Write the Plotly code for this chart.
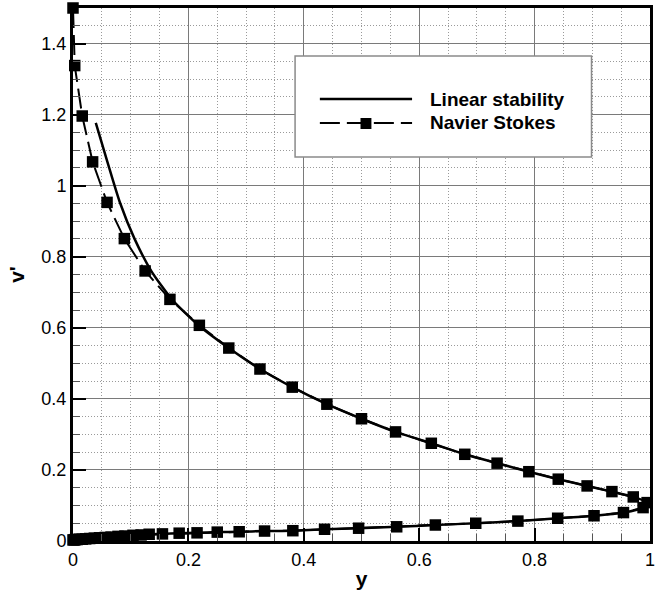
import plotly.graph_objects as go

# Navier Stokes: upper branch (large amplitude near y=0, decaying to y=1)
ns_up_x = [0.0, 0.003, 0.016, 0.034, 0.059, 0.089, 0.125, 0.168, 0.219, 0.270,
           0.324, 0.380, 0.440, 0.500, 0.559, 0.621, 0.679, 0.735, 0.790, 0.841,
           0.891, 0.934, 0.971, 0.995]
ns_up_v = [1.50, 1.338, 1.196, 1.067, 0.953, 0.851, 0.760, 0.680, 0.607, 0.543,
           0.484, 0.433, 0.385, 0.344, 0.307, 0.275, 0.244, 0.219, 0.195, 0.174,
           0.155, 0.139, 0.124, 0.108]

# Navier Stokes: lower branch (small amplitude, growing towards y=1)
ns_lo_x = [0.988, 0.954, 0.903, 0.840, 0.771, 0.698, 0.628, 0.561, 0.495, 0.436,
           0.381, 0.332, 0.288, 0.250, 0.215, 0.184, 0.155, 0.132, 0.118, 0.104,
           0.090, 0.078, 0.066, 0.056, 0.046, 0.037, 0.029, 0.022, 0.016, 0.011,
           0.007, 0.004, 0.002, 0.0]
ns_lo_v = [0.094, 0.080, 0.071, 0.064, 0.056, 0.050, 0.045, 0.040, 0.036, 0.033,
           0.029, 0.028, 0.026, 0.025, 0.023, 0.022, 0.020, 0.019, 0.017, 0.016,
           0.014, 0.013, 0.011, 0.010, 0.009, 0.008, 0.007, 0.006, 0.005, 0.005,
           0.004, 0.004, 0.003, 0.003]

# Linear stability: upper branch starts slightly away from the wall
ls_up_x = [0.0395, 0.0596, 0.081, 0.1065, 0.136, 0.172, 0.217, 0.270, 0.324, 0.380,
           0.440, 0.500, 0.559, 0.621, 0.679, 0.735, 0.790, 0.841, 0.891, 0.934,
           0.971, 0.995]
ls_up_v = [1.177, 1.067, 0.954, 0.851, 0.759, 0.679, 0.608, 0.543, 0.484, 0.433,
           0.385, 0.344, 0.307, 0.275, 0.244, 0.219, 0.195, 0.174, 0.155, 0.139,
           0.124, 0.108]
ls_lo_x = ns_lo_x
ls_lo_v = ns_lo_v

x_ticks = [0, 0.2, 0.4, 0.6, 0.8, 1]
y_ticks = [0, 0.2, 0.4, 0.6, 0.8, 1, 1.2, 1.4]

legend_names = ["Linear stability", "Navier Stokes"]

FONT = "Liberation Sans, Arial, Helvetica, sans-serif"
W, H = 657, 594
ML, MR, MT, MB = 73, 2, 8, 53
PW, PH = W - ML - MR, H - MT - MB


def px_x(px):
    return (px - ML) / PW


def px_y(py):
    return (H - MB - py) / PH


fig = go.Figure()

fig.add_trace(go.Scatter(
    x=ls_up_x + ls_lo_x, y=ls_up_v + ls_lo_v,
    mode="lines", name=legend_names[0],
    line=dict(color="black", width=2.5, shape="spline", smoothing=0.6),
    showlegend=False, cliponaxis=False,
))
fig.add_trace(go.Scatter(
    x=ns_up_x + ns_lo_x, y=ns_up_v + ns_lo_v,
    mode="lines+markers", name=legend_names[1],
    line=dict(color="black", width=2, dash="20px,7px"),
    marker=dict(symbol="square", size=11.5, color="black"),
    showlegend=False, cliponaxis=False,
))

axis_common = dict(
    showline=True, linecolor="black", linewidth=3, mirror=True,
    ticks="inside", ticklen=13, tickwidth=2, tickcolor="black",
    showgrid=True, gridcolor="#7a7a7a", gridwidth=1,
    zeroline=False,
    tickfont=dict(family=FONT, size=18, color="black"),
    minor=dict(dtick=0.05, ticks="inside", ticklen=7, tickwidth=1,
               tickcolor="#555555", showgrid=True, gridcolor="#9a9a9a",
               griddash="1px,2px", gridwidth=1),
)

fig.update_xaxes(
    range=[0, 1], tickvals=x_ticks, ticklabeloverflow="allow", **axis_common,
    title=dict(text="y", standoff=3,
               font=dict(family=FONT, size=21, color="black", weight="bold")),
)
fig.update_yaxes(
    range=[0, 1.5], tickvals=y_ticks, **axis_common,
    title=dict(text="v'", standoff=12,
               font=dict(family=FONT, size=21, color="black", weight="bold")),
)

# Legend box with line samples
shapes = [
    dict(type="rect", xref="paper", yref="paper", layer="above",
         x0=px_x(297), x1=px_x(596), y0=px_y(157), y1=px_y(56),
         fillcolor="white", line=dict(color="#8a8a8a", width=1.5)),
    dict(type="line", xref="paper", yref="paper", layer="above",
         x0=px_x(322), x1=px_x(415), y0=px_y(99), y1=px_y(99),
         line=dict(color="black", width=2.5)),
    dict(type="line", xref="paper", yref="paper", layer="above",
         x0=px_x(322), x1=px_x(415), y0=px_y(123), y1=px_y(123),
         line=dict(color="black", width=2, dash="20px,7px")),
    dict(type="rect", xref="paper", yref="paper", layer="above",
         x0=px_x(363), x1=px_x(374), y0=px_y(129), y1=px_y(118),
         fillcolor="black", line=dict(width=0)),
]
annotations = [
    dict(text=legend_names[0], xref="paper", yref="paper",
         x=px_x(431), y=px_y(99), xanchor="left", yanchor="middle",
         showarrow=False,
         font=dict(family=FONT, size=19, color="black", weight="bold")),
    dict(text=legend_names[1], xref="paper", yref="paper",
         x=px_x(431), y=px_y(123), xanchor="left", yanchor="middle",
         showarrow=False,
         font=dict(family=FONT, size=19, color="black", weight="bold")),
]

fig.update_layout(
    width=W, height=H,
    margin=dict(l=ML, r=MR, t=MT, b=MB),
    paper_bgcolor="white", plot_bgcolor="white",
    shapes=shapes, annotations=annotations,
    showlegend=False,
)

fig.write_html("out.html")
